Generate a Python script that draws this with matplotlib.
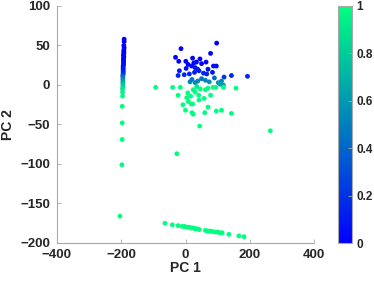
import matplotlib
matplotlib.use("Agg")
import matplotlib.pyplot as plt
import numpy as np

plt.rcParams['font.family'] = ['Liberation Sans', 'DejaVu Sans']

# Column of points near PC1 = -190
col_pc1 = [-191, -191, -192, -191, -192, -192, -192, -193, -192, -193, -193, -193, -193, -193, -194,
           -194, -194, -194, -194, -194, -195, -195, -195, -195, -195, -195, -196, -196, -196, -197,
           -197, -197, -198, -204]
col_pc2 = [58, 55, 50, 47, 44, 42, 40, 38, 36, 34, 32, 30, 28, 26, 24,
           22, 20, 18, 16, 14, 12, 10, 7, 4, 1, -2, -5, -9, -14, -27,
           -48, -69, -101, -166]
col_val = [0.0, 0.0, 0.0, 0.0, 0.0, 0.0, 0.0, 0.0, 0.0, 0.0, 0.0, 0.0, 0.05, 0.05, 0.05,
           0.08, 0.1, 0.12, 0.15, 0.2, 0.3, 0.45, 0.55, 0.65, 0.75, 0.85, 0.9, 0.95, 1.0, 1.0,
           1.0, 1.0, 1.0, 1.0]

# Main cluster
cl_pc1 = [-14, 97, 78, -31, -21, 1, 26, 34, 50, 64, 87, 96, 2, 19, 30, 38, 42, -19, -23, -4,
          12, 28, 56, 66, 84, 120, 143, 193, 70, 45, 8, 22,
          14, 30, 38, 62, 74, 102, 112, 118, 108, 50, 20, 90,
          -93, -40, -16, 7, 24, 30, 46, 62, 70, 86, 95, 118, 157, -23, 41, 78, 9, 42, 18, -8,
          22, 70, 0, 20, 60, 96, 112, 143, 24, 44, -27, 264, 35, 58, 16, 4]
cl_pc2 = [46, 53, 40, 35, 30, 30, 28, 29, 27, 29, 24, 24, 21, 24, 22, 20, 18, 18, 12, 13,
          14, 16, 15, 14, 16, 10, 12, 11, 20, 33, 26, 34,
          4, 3, 5, 6, 4, 3, 5, 0, 1, 8, 7, 9,
          -3, -3, -3, -10, -6, -9, -5, -6, -4, -3, -3, -3, -4, -13, -13, -13, -21, -19, -24, -25,
          -24, -28, -32, -35, -35, -33, -32, -36, -37, -52, -87, -58, -2, -17, -14, -16]
cl_val = [0.0, 0.0, 0.0, 0.0, 0.0, 0.0, 0.0, 0.0, 0.0, 0.0, 0.05, 0.05, 0.05, 0.05, 0.05, 0.1, 0.1, 0.1, 0.15, 0.15,
          0.15, 0.1, 0.15, 0.15, 0.1, 0.2, 0.15, 0.15, 0.05, 0.0, 0.0, 0.0,
          0.5, 0.55, 0.5, 0.5, 0.55, 0.6, 0.55, 0.65, 0.6, 0.45, 0.45, 0.4,
          1.0, 1.0, 1.0, 1.0, 1.0, 1.0, 1.0, 1.0, 1.0, 1.0, 1.0, 1.0, 1.0, 1.0, 1.0, 1.0, 1.0, 1.0, 1.0, 1.0,
          1.0, 1.0, 1.0, 1.0, 1.0, 1.0, 1.0, 1.0, 1.0, 1.0, 1.0, 1.0, 0.9, 1.0, 1.0, 1.0]

# Lower diagonal line of points
ln_pc1 = [-64, -41, -23, -10, -3, 5, 12, 18, 24, 30, 36, 43, 62, 68, 74, 80, 90, 100, 106, 114, 135, 166, 182]
ln_pc2 = [-175, -177, -178, -179, -179, -180, -180, -181, -181, -182, -182, -183, -184, -185, -185, -185,
          -186, -186, -187, -187, -189, -191, -192]
ln_val = [1.0] * len(ln_pc1)

pc1 = col_pc1 + cl_pc1 + ln_pc1
pc2 = col_pc2 + cl_pc2 + ln_pc2
val = col_val + cl_val + ln_val

W, H = 374, 281
fig = plt.figure(figsize=(W / 100, H / 100), dpi=100)
ax = fig.add_axes([57 / W, 1 - 243 / H, (314 - 57) / W, (243 - 6) / H])
sc = ax.scatter(pc1, pc2, c=val, cmap='winter', vmin=0, vmax=1, s=12, linewidths=0)

ax.set_xlim(-400, 400)
ax.set_ylim(-200, 100)
ax.set_xticks([-400, -200, 0, 200, 400])
ax.set_yticks([-200, -150, -100, -50, 0, 50, 100])
gray = '#a8a8a8'
txt = '#262626'
for s in ['top', 'right']:
    ax.spines[s].set_visible(False)
for s in ['left', 'bottom']:
    ax.spines[s].set_color(gray)
    ax.spines[s].set_linewidth(0.8)
ax.tick_params(direction='in', length=3, width=0.6, color=gray, labelsize=9.5, labelcolor=txt)
ax.tick_params(axis='x', pad=4)
ax.tick_params(axis='y', pad=5)
for lab in ax.get_xticklabels() + ax.get_yticklabels():
    lab.set_fontweight('bold')
ax.set_xlabel('PC 1', fontsize=10, fontweight='bold', color=txt, labelpad=0)
ax.set_ylabel('PC 2', fontsize=10, fontweight='bold', color=txt, labelpad=4)

cax = fig.add_axes([338 / W, 1 - 243 / H, 14 / W, (243 - 6) / H])
cb = fig.colorbar(sc, cax=cax, ticks=[0, 0.2, 0.4, 0.6, 0.8, 1])
cb.set_ticklabels(['0', '0.2', '0.4', '0.6', '0.8', '1'])
cb.outline.set_edgecolor(gray)
cb.outline.set_linewidth(0.8)
cax.tick_params(direction='in', length=3, width=0.6, color=gray, labelsize=8.5, labelcolor=txt, pad=3)
for lab in cax.get_yticklabels():
    lab.set_fontweight('bold')

fig.savefig('out.png', dpi=100)
